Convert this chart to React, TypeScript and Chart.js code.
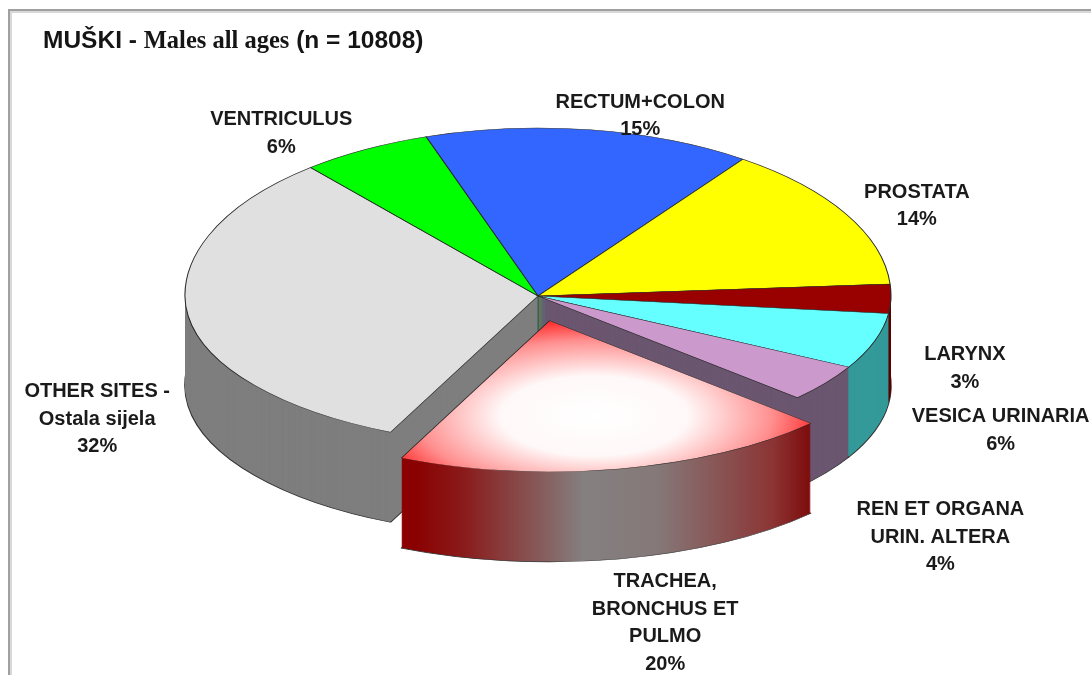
import React, { useEffect, useRef } from "react";
import { Chart, registerables } from "chart.js";

Chart.register(...registerables);

// ---- data ----
const categories = [
  "RECTUM+COLON",
  "PROSTATA",
  "LARYNX",
  "VESICA URINARIA",
  "REN ET ORGANA URIN. ALTERA",
  "TRACHEA, BRONCHUS ET PULMO",
  "OTHER SITES - Ostala sijela",
  "VENTRICULUS",
];
const labelLines = [
  ["RECTUM+COLON"],
  ["PROSTATA"],
  ["LARYNX"],
  ["VESICA URINARIA"],
  ["REN ET ORGANA", "URIN. ALTERA"],
  ["TRACHEA,", "BRONCHUS ET", "PULMO"],
  ["OTHER SITES -", "Ostala sijela"],
  ["VENTRICULUS"],
];
const shares = [15, 14, 3, 6, 4, 20, 32, 6];
const exploded = [0, 0, 0, 0, 0, 1, 0, 0];
const titleParts = [
  { text: "MUŠKI - ", serif: false },
  { text: "Males all ages", serif: true },
  { text: " (n = 10808)", serif: false },
];

// ---- styles ----
const topColors = ["#3366ff", "#ffff00", "#990000", "#66ffff", "#cc99cc", "#ff0000", "#e0e0e0", "#00ff00"];
const sideColors = ["#1f3d99", "#999900", "#5a0000", "#339999", "#6b5670", "#8b0000", "#7e7e7e", "#009900"];
const GEOM = { cx: 538, cy: 296, rx: 353, ryTop: 168, ryBot: 150, depth: 90 };
const PIE_RADIUS = 200;
const EXPLODE = 134;
const labelNudge = [
  [50, -22],
  [71, -16],
  [74, 61],
  [126, 81],
  [115, 132],
  [58, 144],
  [-91, 81],
  [-84, -24],
];
const SANS = '"Liberation Sans", Arial, sans-serif';
const SERIF = '"Liberation Serif", "Times New Roman", serif';

function drawArcWith(ctx: CanvasRenderingContext2D, arc: any, override: any) {
  const saved = arc.options;
  arc.options = Object.assign({}, saved, override);
  arc.draw(ctx);
  arc.options = saved;
}

const pie3d = {
  id: "pie3d",
  beforeDraw(chart: any) {
    const ctx = chart.ctx;
    ctx.save();
    ctx.fillStyle = "#ffffff";
    ctx.fillRect(0, 0, chart.width, chart.height);
    ctx.restore();
  },
  beforeDatasetsDraw(chart: any) {
    const ctx: CanvasRenderingContext2D = chart.ctx;
    const meta = chart.getDatasetMeta(0);
    const arcs = meta.data as any[];
    if (!arcs.length) return;
    const a0 = arcs[0];
    const ox = a0.x, oy = a0.y, R = a0.outerRadius;
    const sx = GEOM.rx / R, syT = GEOM.ryTop / R, syB = GEOM.ryBot / R;
    const W = chart.width, H = chart.height;

    const pass = (shift: number, paint: () => void) => {
      for (const half of [0, 1]) {
        ctx.save();
        const yLine = GEOM.cy + shift;
        ctx.beginPath();
        if (half === 0) ctx.rect(0, 0, W, yLine);
        else ctx.rect(0, yLine, W, H - yLine);
        ctx.clip();
        ctx.translate(GEOM.cx, yLine);
        ctx.scale(sx, half === 0 ? syT : syB);
        ctx.translate(-ox, -oy);
        paint();
        ctx.restore();
      }
    };

    // gradients for exploded slice
    const ex = arcs.findIndex((_, i) => exploded[i]);
    let wallGrad: any = null, topGrad: any = null;
    if (ex >= 0) {
      const a = arcs[ex];
      const mid = (a.startAngle + a.endAngle) / 2;
      const off = (a.options.offset || 0) / 4;
      const bx = ox + Math.cos(mid) * off, by = oy + Math.sin(mid) * off;
      const xl = bx + R * Math.cos(a.endAngle), xr = bx + R * Math.cos(a.startAngle);
      wallGrad = ctx.createLinearGradient(xl, 0, xr, 0);
      wallGrad.addColorStop(0, "#8b0000");
      wallGrad.addColorStop(0.12, "#8a1a1a");
      wallGrad.addColorStop(0.42, "#858080");
      wallGrad.addColorStop(0.6, "#857878");
      wallGrad.addColorStop(0.88, "#8c3535");
      wallGrad.addColorStop(1, "#7a0000");
      const gx = bx + Math.cos(mid) * R * 0.48, gy = by + Math.sin(mid) * R * 0.48;
      topGrad = ctx.createRadialGradient(gx, gy, 0, gx, gy, R * 0.7);
      topGrad.addColorStop(0, "#ffffff");
      topGrad.addColorStop(0.38, "#fff8f8");
      topGrad.addColorStop(0.72, "#ff8f8f");
      topGrad.addColorStop(1, "#ff0000");
    }

    for (let L = GEOM.depth; L >= 1; L--) {
      pass(L, () => {
        arcs.forEach((arc, i) => {
          drawArcWith(ctx, arc, {
            backgroundColor: i === ex && wallGrad ? wallGrad : sideColors[i],
            borderColor: "#333333",
            borderWidth: L === GEOM.depth ? 0.8 : 0,
          });
        });
      });
    }
    pass(0, () => {
      arcs.forEach((arc, i) => {
        drawArcWith(ctx, arc, i === ex && topGrad ? { backgroundColor: topGrad } : {});
      });
    });
    return false;
  },
  afterDraw(chart: any) {
    const ctx: CanvasRenderingContext2D = chart.ctx;
    const arcs = chart.getDatasetMeta(0).data as any[];
    const total = shares.reduce((s, v) => s + v, 0);
    ctx.save();
    // frame
    ctx.strokeStyle = "#d8d8d8";
    ctx.lineWidth = 2;
    ctx.beginPath();
    ctx.moveTo(11, chart.height);
    ctx.lineTo(11, 12);
    ctx.lineTo(chart.width, 12);
    ctx.stroke();
    ctx.strokeStyle = "#a0a0a0";
    ctx.beginPath();
    ctx.moveTo(9, chart.height);
    ctx.lineTo(9, 10);
    ctx.lineTo(chart.width, 10);
    ctx.stroke();

    // title
    let x = 43;
    ctx.fillStyle = "#151515";
    ctx.textAlign = "left";
    ctx.textBaseline = "alphabetic";
    for (const p of titleParts) {
      ctx.font = `bold 24.5px ${p.serif ? SERIF : SANS}`;
      ctx.fillText(p.text, x, 48);
      x += ctx.measureText(p.text).width;
    }

    // labels
    ctx.font = `bold 20px ${SANS}`;
    ctx.textAlign = "center";
    ctx.fillStyle = "#1a1a1a";
    arcs.forEach((arc, i) => {
      const mid = (arc.startAngle + arc.endAngle) / 2;
      const s = Math.sin(mid);
      const ax = GEOM.cx + GEOM.rx * Math.cos(mid);
      const ay = GEOM.cy + (s < 0 ? GEOM.ryTop : GEOM.ryBot) * s;
      const lines = [...labelLines[i], Math.round((shares[i] / total) * 100) + "%"];
      lines.forEach((t, k) => {
        ctx.fillText(t, ax + labelNudge[i][0], ay + labelNudge[i][1] + k * 27.5);
      });
    });
    ctx.restore();
  },
};

export default function App() {
  const ref = useRef<HTMLCanvasElement>(null);
  useEffect(() => {
    const chart = new Chart(ref.current as HTMLCanvasElement, {
      type: "pie",
      data: {
        labels: categories,
        datasets: [
          {
            data: shares,
            backgroundColor: topColors,
            borderColor: "#2a2a2a",
            borderWidth: 0.6,
            offset: exploded.map((e) => (e ? EXPLODE : 0)),
            hoverOffset: 0,
            radius: PIE_RADIUS,
          } as any,
        ],
      },
      options: {
        animation: false,
        responsive: false,
        devicePixelRatio: 1,
        events: [],
        rotation: -18.5,
        layout: { padding: 0 },
        plugins: { legend: { display: false }, tooltip: { enabled: false }, title: { display: false } },
      } as any,
      plugins: [pie3d],
    });
    return () => chart.destroy();
  }, []);
  return (
    <div style={{ position: "absolute", left: 0, top: 0, width: 1091, height: 675, background: "#fff" }}>
      <canvas ref={ref} width={1091} height={675} style={{ display: "block", width: 1091, height: 675 }} />
    </div>
  );
}
